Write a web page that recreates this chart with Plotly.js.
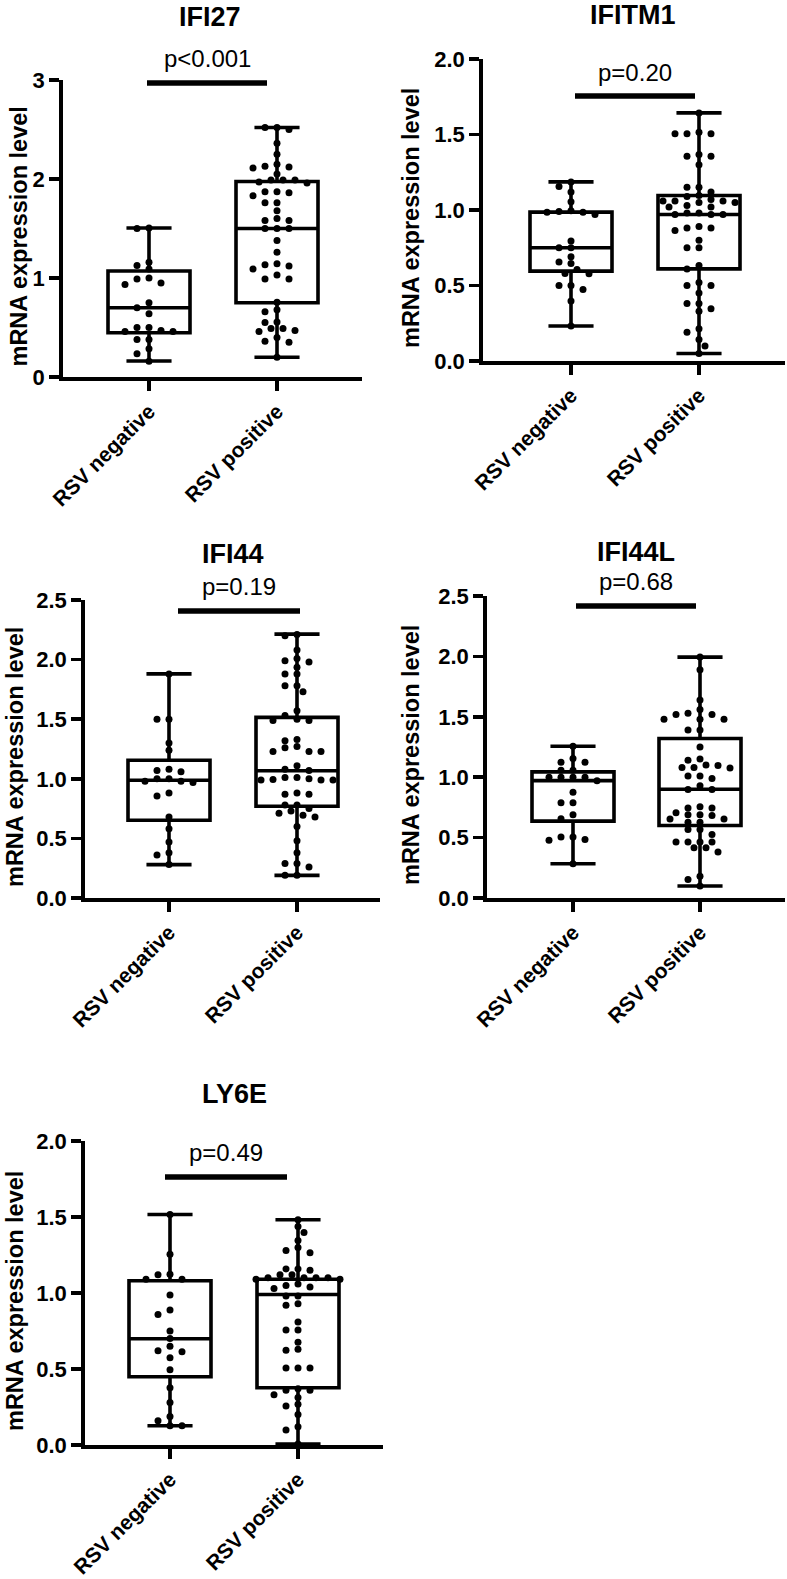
<!DOCTYPE html>
<html><head><meta charset="utf-8">
<script src="https://cdn.plot.ly/plotly-3.0.1.min.js"></script>
<style>body{margin:0;background:#fff}#chart{width:787px;height:1579px}</style>
</head><body><div id="chart"></div>
<script>
// ---------------- data ----------------
const groups = ['RSV negative', 'RSV positive'];
const genes = ['IFI27', 'IFITM1', 'IFI44', 'IFI44L', 'LY6E'];
const pLabels = ['p<0.001', 'p=0.20', 'p=0.19', 'p=0.68', 'p=0.49'];
const yMax = [3, 2, 2.5, 2.5, 2];
const yStep = [1, 0.5, 0.5, 0.5, 0.5];

const ifi27Neg = [1.505,1.50,1.16,1.125,1.09,0.99,1.00,0.95,0.935,0.75,0.70,0.64,0.50,0.50,0.46,0.46,0.47,0.38,0.38,0.285,0.235,0.16];
const ifi27Pos = [2.52,2.52,2.50,2.36,2.25,2.15,2.11,2.12,2.13,2.05,1.97,1.99,1.96,1.99,1.99,1.86,1.87,1.87,1.83,1.76,1.76,1.68,1.58,1.60,1.58,1.50,1.50,1.50,1.38,1.26,1.135,1.12,1.145,1.09,0.99,0.99,1.03,0.755,0.68,0.66,0.55,0.555,0.49,0.49,0.47,0.46,0.40,0.35,0.36,0.20];
const ifitm1Neg = [1.186,1.155,1.12,1.055,0.985,0.995,0.97,0.985,0.99,0.795,0.75,0.75,0.69,0.645,0.655,0.578,0.606,0.58,0.50,0.50,0.474,0.397,0.232];
const ifitm1Pos = [1.643,1.515,1.505,1.505,1.505,1.356,1.367,1.356,1.30,1.151,1.151,1.12,1.096,1.09,1.06,1.05,1.06,1.07,1.06,1.05,1.02,1.03,1.02,0.97,0.98,0.97,0.98,0.97,0.88,0.89,0.88,0.865,0.80,0.75,0.75,0.633,0.61,0.50,0.50,0.52,0.45,0.38,0.38,0.346,0.33,0.214,0.19,0.143,0.10,0.05];
const ifi44Neg = [1.88,1.50,1.50,1.30,1.24,1.08,1.07,1.06,1.00,0.98,0.98,0.97,1.00,0.855,0.88,0.68,0.58,0.47,0.36,0.38,0.28];
const ifi44Pos = [2.21,2.20,2.08,2.01,1.98,1.99,1.935,1.88,1.88,1.78,1.78,1.73,1.53,1.57,1.49,1.49,1.50,1.32,1.33,1.26,1.23,1.23,1.23,1.27,1.11,1.07,1.08,1.01,0.99,0.99,0.99,0.995,1.00,1.01,0.87,0.88,0.87,0.78,0.78,0.75,0.694,0.71,0.68,0.73,0.60,0.48,0.38,0.29,0.26,0.29,0.19,0.19];
const ifi44lNeg = [1.256,1.124,1.124,1.154,1.058,1.058,1.00,1.00,0.97,1.00,1.00,0.876,0.788,0.788,0.69,0.656,0.504,0.504,0.485,0.479,0.284];
const ifi44lPos = [1.994,1.89,1.64,1.52,1.48,1.56,1.48,1.52,1.48,1.53,1.39,1.39,1.25,1.15,1.14,1.10,1.08,1.097,1.077,1.08,1.01,0.99,1.01,0.93,0.898,0.898,0.755,0.746,0.746,0.69,0.683,0.69,0.705,0.628,0.628,0.655,0.655,0.568,0.568,0.526,0.463,0.463,0.463,0.463,0.416,0.416,0.38,0.18,0.154,0.099];
const ly6eNeg = [1.516,1.255,1.12,1.124,1.09,1.09,0.987,0.858,0.888,0.75,0.70,0.613,0.62,0.65,0.574,0.495,0.377,0.28,0.188,0.159,0.127,0.127];
const ly6ePos = [1.482,1.437,1.398,1.346,1.30,1.265,1.28,1.158,1.149,1.158,1.12,1.12,1.10,1.10,1.09,1.10,1.09,1.10,1.06,1.05,1.04,1.03,0.98,0.98,0.92,0.93,0.81,0.756,0.756,0.676,0.63,0.624,0.506,0.506,0.506,0.36,0.36,0.37,0.33,0.313,0.268,0.257,0.20,0.12,0.098,0.007];

const negValues = [ifi27Neg, ifitm1Neg, ifi44Neg, ifi44lNeg, ly6eNeg];
const posValues = [ifi27Pos, ifitm1Pos, ifi44Pos, ifi44lPos, ly6ePos];

// box statistics (min, Q1, median, Q3, max)
const minNeg = [0.161, 0.232, 0.28, 0.284, 0.127];
const q1Neg = [0.447, 0.595, 0.652, 0.636, 0.449];
const medNeg = [0.70, 0.75, 0.988, 0.972, 0.699];
const q3Neg = [1.07, 0.986, 1.156, 1.044, 1.081];
const maxNeg = [1.505, 1.186, 1.88, 1.256, 1.516];
const minPos = [0.20, 0.05, 0.19, 0.099, 0.007];
const q1Pos = [0.75, 0.61, 0.77, 0.60, 0.377];
const medPos = [1.50, 0.97, 1.067, 0.90, 0.99];
const q3Pos = [1.975, 1.096, 1.515, 1.32, 1.09];
const maxPos = [2.52, 1.643, 2.214, 1.994, 1.482];

// ---------------- layout geometry (pixels) ----------------
const W = 787, H = 1579;
const geom = [
  {x0:63,  x1:362, c0:149, c1:277, yT:80,   yB:377,  titleY:17,   pY:59,   brY:83,   brX0:147, brX1:267, labX:18,  titleX:210},
  {x0:483, x1:785, c0:571, c1:699, yT:59,   yB:361,  titleY:15,   pY:72,   brY:96,   brX0:575, brX1:695, labX:411, titleX:633},
  {x0:85,  x1:380, c0:169, c1:297, yT:600,  yB:898,  titleY:554,  pY:587,  brY:611,  brX0:178, brX1:300, labX:15,  titleX:233},
  {x0:487, x1:785, c0:573, c1:700, yT:596,  yB:898,  titleY:552,  pY:581,  brY:606,  brX0:576, brX1:696, labX:411, titleX:636},
  {x0:85,  x1:383, c0:170, c1:298, yT:1141, yB:1445, titleY:1094, pY:1152, brY:1177, brX0:165, brX1:287, labX:15,  titleX:234}
];
const FONT = 'Liberation Sans, Arial, Helvetica, sans-serif';
const px = x => x / W;
const py = y => 1 - y / H;

// beeswarm placement computed from the values
function swarm(vals, center, pxPerY, pxPerX) {
  const order = vals.map((v, i) => i).sort((a, b) => vals[b] - vals[a]);
  const placed = []; const xs = new Array(vals.length);
  order.forEach(k => {
    const y = vals[k] * pxPerY;
    let best = null;
    for (let s = 0; s < 60 && best === null; s++) {
      const cands = s === 0 ? [0] : (s % 2 ? [s * 6, -s * 6] : [-s * 6, s * 6]);
      for (const dx of cands) {
        const ok = placed.every(p => { const a = (p.x - dx) / 12, b = (p.y - y) / 6.5; return a * a + b * b >= 1; });
        if (ok) { best = dx; break; }
      }
    }
    placed.push({x: best, y}); xs[k] = center + best / pxPerX;
  });
  return xs;
}

const traces = [];
const layout = {
  width: W, height: H, margin: {l: 0, r: 0, t: 0, b: 0},
  paper_bgcolor: '#fff', plot_bgcolor: 'rgba(0,0,0,0)', showlegend: false,
  annotations: [], shapes: []
};

genes.forEach((g, i) => {
  const G = geom[i];
  const sfx = i === 0 ? '' : String(i + 1);
  const xa = 'x' + sfx, ya = 'y' + sfx;
  const unit = G.c1 - G.c0;
  const pxPerY = (G.yB - G.yT) / yMax[i];

  layout['xaxis' + sfx] = {
    domain: [px(G.x0), px(G.x1)],
    range: [(G.x0 - G.c0) / unit, (G.x1 - G.c0) / unit],
    anchor: ya, tickvals: [0, 1], ticktext: groups, tickangle: -45,
    ticks: 'outside', ticklen: 10, tickwidth: 3.5, tickcolor: '#000',
    showline: true, linewidth: 3.8, linecolor: '#000', showgrid: false, zeroline: false,
    tickfont: {family: FONT, size: 21, color: '#000', weight: 'bold'}, fixedrange: true
  };
  layout['yaxis' + sfx] = {
    domain: [py(G.yB), py(G.yT)], range: [0, yMax[i]], anchor: xa,
    tick0: 0, dtick: yStep[i], tickformat: i === 0 ? 'd' : '.1f',
    ticks: 'outside', ticklen: 10, tickwidth: 3.5, tickcolor: '#000',
    showline: true, linewidth: 3.8, linecolor: '#000', showgrid: false, zeroline: false,
    tickfont: {family: FONT, size: 22, color: '#000', weight: 'bold'}, fixedrange: true
  };

  traces.push({
    type: 'box', x: [0, 1], xaxis: xa, yaxis: ya,
    lowerfence: [minNeg[i], minPos[i]], q1: [q1Neg[i], q1Pos[i]], median: [medNeg[i], medPos[i]],
    q3: [q3Neg[i], q3Pos[i]], upperfence: [maxNeg[i], maxPos[i]],
    width: 82 / unit, whiskerwidth: 0.55, boxpoints: false,
    line: {color: '#000', width: 3.6}, fillcolor: 'rgba(0,0,0,0)', hoverinfo: 'skip'
  });
  [negValues[i], posValues[i]].forEach((vals, j) => {
    traces.push({
      type: 'scatter', mode: 'markers', xaxis: xa, yaxis: ya, cliponaxis: false,
      x: swarm(vals, j, pxPerY, unit), y: vals,
      marker: {color: '#000', size: 7, line: {width: 0}}, name: groups[j]
    });
  });

  layout.annotations.push(
    {xref: 'paper', yref: 'paper', x: px(G.titleX), y: py(G.titleY), showarrow: false,
     text: g, xanchor: 'center', yanchor: 'middle', font: {family: FONT, size: 27, color: '#000', weight: 'bold'}},
    {xref: 'paper', yref: 'paper', x: px((G.brX0 + G.brX1) / 2), y: py(G.pY), showarrow: false,
     text: pLabels[i], xanchor: 'center', yanchor: 'middle', font: {family: FONT, size: 24, color: '#000'}},
    {xref: 'paper', yref: 'paper', x: px(G.labX), y: py((G.yT + G.yB) / 2 + 8), showarrow: false,
     text: 'mRNA expression level', textangle: -90, xanchor: 'center', yanchor: 'middle',
     font: {family: FONT, size: 23.5, color: '#000', weight: 'bold'}}
  );
  layout.shapes.push({type: 'line', xref: 'paper', yref: 'paper',
    x0: px(G.brX0), x1: px(G.brX1), y0: py(G.brY), y1: py(G.brY), line: {color: '#000', width: 5.5}});
});

Plotly.newPlot('chart', traces, layout, {displayModeBar: false, staticPlot: true});
</script>
</body></html>
